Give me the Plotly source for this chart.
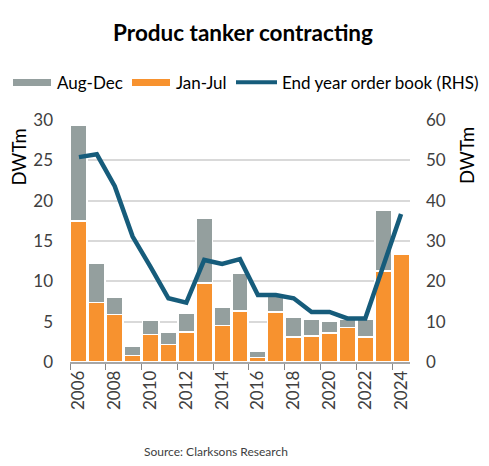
import plotly.graph_objects as go

years = [str(y) for y in range(2006, 2025)]
jan_jul = [17.5, 7.4, 5.9, 0.8, 3.4, 2.2, 3.7, 9.8, 4.5, 6.35, 0.55, 6.2, 3.1, 3.25, 3.6, 4.3, 3.1, 11.3, 13.3]
totals = [29.3, 12.25, 8.0, 1.95, 5.2, 3.65, 6.0, 17.8, 6.8, 11.0, 1.3, 8.2, 5.5, 5.3, 5.05, 5.3, 5.3, 18.8, 13.3]
aug_dec = [round(t - j, 2) for t, j in zip(totals, jan_jul)]
order_book = [50.8, 51.5, 43.6, 31.1, 23.6, 15.8, 14.7, 25.3, 24.3, 25.5, 16.6, 16.6, 15.8, 12.4, 12.4, 10.8, 10.8, 24.0, 36.7]
legend_labels = ["Aug-Dec", "Jan-Jul", "End year order book (RHS)"]

ORANGE = "#F7922F"
GREY = "#949F9E"
TEAL = "#165C7B"
FONT = "Lato"
TXT = "#404040"

fig = go.Figure()
fig.add_trace(go.Bar(x=years, y=jan_jul, name="Jan-Jul", marker=dict(color=ORANGE, line=dict(color="white", width=1.5)), showlegend=False))
fig.add_trace(go.Bar(x=years, y=aug_dec, name="Aug-Dec", marker=dict(color=GREY, line=dict(color="white", width=1.5)), showlegend=False))
fig.add_trace(go.Scatter(x=years, y=order_book, name="End year order book (RHS)", mode="lines",
                         line=dict(color=TEAL, width=4.5), yaxis="y2", showlegend=False))

# page-pixel -> paper coordinates (plot area spans x 70..410, y 120..362 in the shot)
def px(x):
    return (x - 70) / 340

def py(y):
    return (362 - y) / 242

shapes = [
    dict(type="rect", xref="paper", yref="paper", x0=px(13), x1=px(51), y0=py(79), y1=py(86),
         fillcolor=GREY, line=dict(width=0)),
    dict(type="rect", xref="paper", yref="paper", x0=px(132), x1=px(170), y0=py(79), y1=py(86),
         fillcolor=ORANGE, line=dict(width=0)),
    dict(type="line", xref="paper", yref="paper", x0=px(236), x1=px(277), y0=py(82.3), y1=py(82.3),
         line=dict(color=TEAL, width=4)),
]

legend_ann = [
    dict(text=t, x=px(xp), y=py(82.5), xref="paper", yref="paper", xanchor="left", yanchor="middle",
         showarrow=False, font=dict(size=17, color="black"))
    for t, xp in zip(legend_labels, [55, 174, 280])
]

fig.update_layout(
    width=489, height=466,
    margin=dict(l=62, r=87, t=112, b=112, autoexpand=False),
    paper_bgcolor="white", plot_bgcolor="white",
    barmode="stack", bargap=0.08, showlegend=False,
    font=dict(family=FONT, size=16, color=TXT),
    title=dict(text="<b>Produc tanker contracting</b>", x=235 / 489, xref="container", xanchor="center",
               y=1 - 25 / 466, yanchor="middle", font=dict(size=22.5, color="black", family=FONT)),
    xaxis=dict(type="category", tickson="boundaries", dtick=2, tickangle=-90, ticks="outside", ticklen=6,
               tickcolor="#888888", showline=True, linecolor="#A6A6A6", linewidth=1.5, showgrid=False,
               tickfont=dict(size=17, color=TXT), automargin=False),
    yaxis=dict(range=[0, 30], dtick=5, showgrid=True, gridcolor="#D9D9D9", gridwidth=1.5, zeroline=False,
               ticklabelstandoff=16, tickfont=dict(size=17, color=TXT), automargin=False),
    yaxis2=dict(range=[0, 60], dtick=10, overlaying="y", side="right", showgrid=False, zeroline=False,
                ticklabelstandoff=15, tickfont=dict(size=17, color=TXT), automargin=False),
    shapes=shapes,
    annotations=legend_ann + [
        dict(text="DWTm", textangle=-90, x=px(18.5), y=py(157), xref="paper", yref="paper",
             xanchor="center", yanchor="middle", showarrow=False, font=dict(size=18.5, color="black")),
        dict(text="DWTm", textangle=-90, x=px(467), y=py(156), xref="paper", yref="paper",
             xanchor="center", yanchor="middle", showarrow=False, font=dict(size=18.5, color="black")),
        dict(text="Source: Clarksons Research", x=px(216), y=py(452), xref="paper", yref="paper",
             xanchor="center", yanchor="middle", showarrow=False, font=dict(size=12, color="#404040")),
    ],
)

fig.write_html("out.html")
